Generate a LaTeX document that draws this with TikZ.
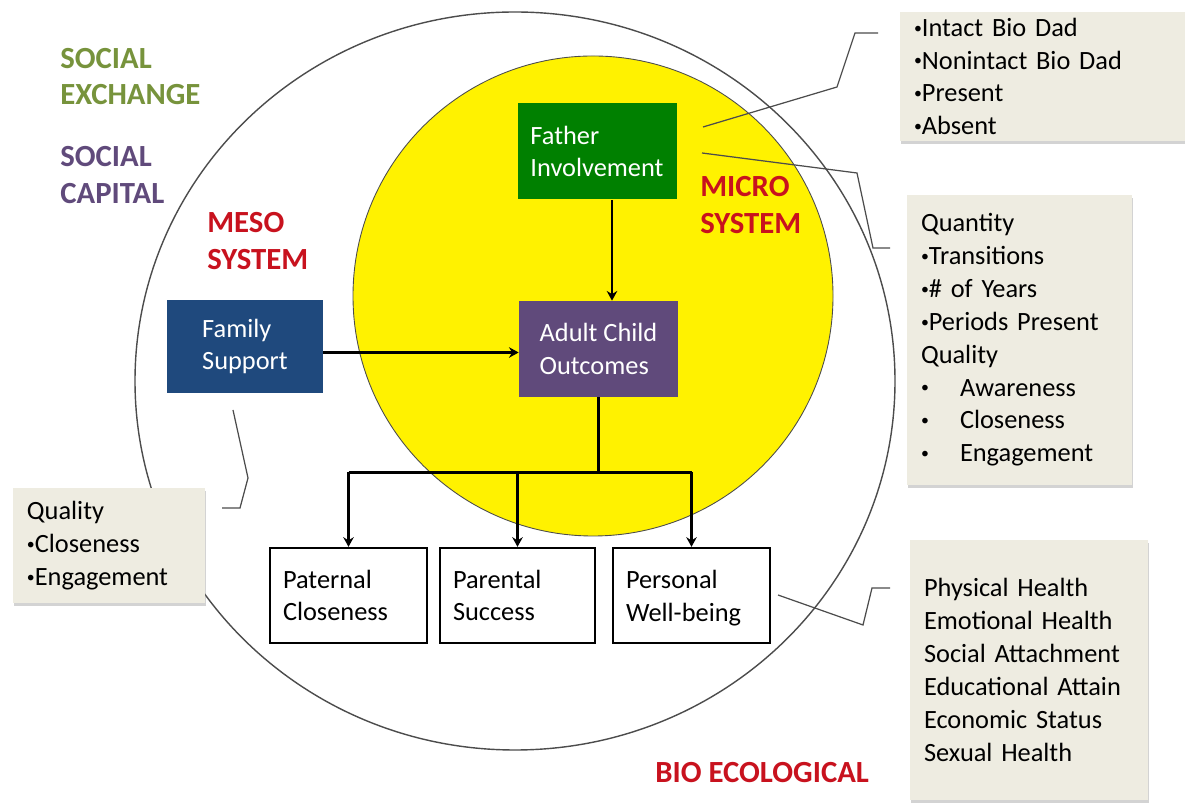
\documentclass[tikz,border=0pt]{standalone}
\usepackage{fontspec}
\setmainfont{Carlito}
\usetikzlibrary{arrows.meta,shadows}
\definecolor{fgreen}{RGB}{0,128,0}
\definecolor{apurple}{RGB}{96,74,123}
\definecolor{fblue}{RGB}{31,73,125}
\definecolor{tred}{RGB}{200,18,30}
\definecolor{tgreen}{RGB}{119,147,60}
\definecolor{notegray}{RGB}{238,236,225}
\newcommand\bul{\raisebox{1.8pt}{\fontsize{9}{9}\selectfont•}}
\tikzset{
  body/.style={font=\fontsize{15}{18.7}\selectfont},
  cbox/.style={body,text=white,align=left,minimum width=3.18cm,minimum height=1.92cm},
  obox/.style={body,draw,line width=1.3pt,text width=2.62cm,inner xsep=0.26cm,minimum height=1.9cm,align=left},
  note/.style={body,fill=notegray,drop shadow={shadow xshift=0.6pt,shadow yshift=-1.6pt,opacity=0.35},align=left,inner xsep=0.28cm},
  lbl/.style={font=\bfseries\fontsize{17.5}{21}\selectfont,align=left,anchor=west,inner sep=0pt},
  arr/.style={line width=1.4pt,-{Stealth[length=5.5pt,width=6pt]}},
  call/.style={gray!60!black,line width=0.7pt},
}
\begin{document}
\begin{tikzpicture}
  \useasboundingbox (0,0) rectangle (23.7,16.08);

  % the two systems
  \draw[gray!60!black,line width=0.8pt] (10.3,8.46) ellipse (7.6 and 7.38);
  \draw[gray!60!black,fill=yellow,line width=0.5pt] (11.86,10.16) circle (4.8);

  % theory labels
  \draw (1.2,14.55) node[lbl,text=tgreen] (sx) {SOCIAL\\EXCHANGE};
  \draw (1.2,12.58) node[lbl,text=apurple] (sc) {SOCIAL\\CAPITAL};
  \draw (4.14,11.26) node[lbl,text=tred] (meso) {MESO\\SYSTEM};
  \draw (14.0,11.98) node[lbl,text=tred] (micro) {MICRO\\SYSTEM};
  \draw (13.1,0.62) node[lbl,text=tred] (bio) {BIO ECOLOGICAL};

  % callout lines
  \coordinate (d1) at (14.06,13.54);
  \coordinate (d2) at (17.56,15.42);
  \coordinate (q1) at (14.04,13.02);
  \coordinate (q2) at (17.80,11.12);
  \coordinate (l1) at (4.66,7.88);
  \coordinate (l2) at (4.44,5.92);
  \coordinate (o1) at (15.56,4.18);
  \coordinate (o2) at (17.80,4.32);
  \draw[call] (d1) -- (16.74,14.34) -- (17.10,15.42) -- (d2);
  \draw[call] (q1) -- (17.14,12.62) -- (17.46,11.12) -- (q2);
  \draw[call] (l1) -- (4.96,6.52) -- (4.80,5.92) -- (l2);
  \draw[call] (o1) -- (17.26,3.58) -- (17.44,4.32) -- (o2);

  % boxes
  \draw (11.94,13.05) node[cbox,fill=fgreen] (fi) {Father\\Involvement};
  \draw (11.97,9.10) node[cbox,fill=apurple] (ac) {Adult Child\\Outcomes};
  \draw (4.90,9.15) node[cbox,fill=fblue,minimum width=3.12cm,minimum height=1.86cm] (fs) {Family\\Support};
  \draw (6.97,4.17) node[obox] (pc) {Paternal\\Closeness};
  \draw (10.35,4.17) node[obox,text width=2.58cm] (ps) {Parental\\Success};
  \draw (13.83,4.17) node[obox] (pw) {Personal\\\smash{Well-being}};

  \draw[arr] ([xshift=0.3cm]fi.south) -- ([xshift=0.3cm]fi.south |- ac.north);
  \draw[arr] ([yshift=-0.12cm]fs.east) -- ([yshift=-0.12cm]fs.east -| ac.west);
  \draw[line width=1.4pt] (ac.south) -- ++(0,-1.5) coordinate (j);
  \draw[line width=1.4pt] (j -| pc) -- (j -| pw);
  \draw[arr] (j -| pc) -- (pc.north);
  \draw[arr] (j -| ps) -- (ps.north);
  \draw[arr] (j -| pw) -- (pw.north);

  % notes
  \draw (21.05,14.55) node[note,text width=5.54cm,minimum height=2.54cm] (dad)
    {\bul Intact Bio Dad\\\bul Nonintact Bio Dad\\\bul Present\\\bul Absent};
  \draw (20.39,9.28) node[note,text width=3.94cm,minimum height=5.8cm] (qty)
    {Quantity\\\bul Transitions\\\bul\# of Years\\\bul Periods Present\\Quality\\
     \makebox[0.78cm][l]{\bul}Awareness\\\makebox[0.78cm][l]{\bul}Closeness\\\makebox[0.78cm][l]{\bul}Engagement};
  \draw (2.18,5.17) node[note,text width=3.28cm,minimum height=2.3cm] (qly)
    {Quality\\\bul Closeness\\\bul Engagement};
  \draw (20.58,2.68) node[note,text width=4.2cm,minimum height=5.2cm] (out)
    {Physical Health\\Emotional Health\\Social Attachment\\Educational Attain\\Economic Status\\Sexual Health};
\end{tikzpicture}
\end{document}
